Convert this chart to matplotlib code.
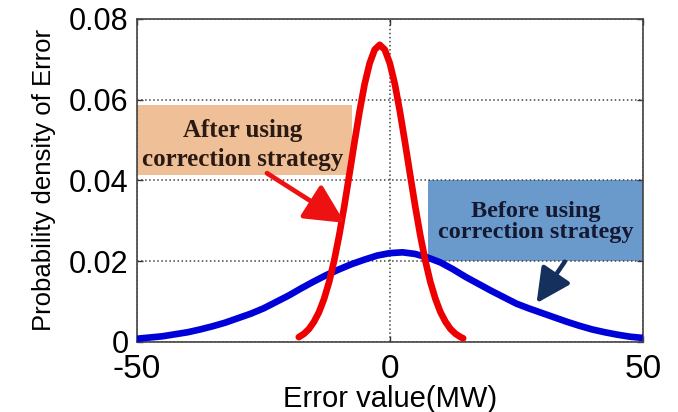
import numpy as np
import matplotlib
matplotlib.use('Agg')
import matplotlib.pyplot as plt

# 误差概率密度
after_x = [-18, -17, -16, -15, -14, -13, -12, -11, -10, -9, -8, -7, -6, -5, -4, -3, -2,
           -1, 0, 1, 2, 3, 4, 5, 6, 7, 8, 9, 10, 11, 12, 13, 14, 14.5]
after_y = [0.0012, 0.0020, 0.0032, 0.0050, 0.0074, 0.0107, 0.0149, 0.0202, 0.0265,
           0.0337, 0.0415, 0.0494, 0.0570, 0.0638, 0.0690, 0.0724, 0.0736,
           0.0724, 0.0690, 0.0638, 0.0570, 0.0494, 0.0415, 0.0337, 0.0265, 0.0202,
           0.0149, 0.0107, 0.0074, 0.0050, 0.0032, 0.0020, 0.0012, 0.0009]

before_x = [-50, -47.5, -45, -42.5, -40, -37.5, -35, -32.5, -30, -27.5, -25, -22.5,
            -20, -17.5, -15, -12.5, -10, -7.5, -5, -2.5, 0, 2.5, 5, 7.5, 10, 12.5,
            15, 17.5, 20, 22.5, 25, 27.5, 30, 32.5, 35, 37.5, 40, 42.5, 45, 47.5, 50]
before_y = [0.0008, 0.0011, 0.0014, 0.0019, 0.0024, 0.0031, 0.0039, 0.0048, 0.0059,
            0.0070, 0.0083, 0.0099, 0.0115, 0.0133, 0.0150, 0.0166, 0.0180, 0.0193,
            0.0204, 0.0214, 0.0220, 0.0222, 0.0218, 0.0209, 0.0197, 0.0180, 0.0161,
            0.0144, 0.0127, 0.0111, 0.0095, 0.0083, 0.0072, 0.0061, 0.0050, 0.0040,
            0.0031, 0.0024, 0.0018, 0.0013, 0.0010]

x_ticks = [-50, 0, 50]
y_ticks = [0, 0.02, 0.04, 0.06, 0.08]
y_tick_labels = ['0', '0.02', '0.04', '0.06', '0.08']

plt.rcParams['font.family'] = ['Liberation Sans', 'DejaVu Sans']
plt.rcParams['axes.unicode_minus'] = False

fig = plt.figure(figsize=(6.78, 4.12), dpi=100)
ax = fig.add_axes([0.202, 0.170, 0.746, 0.784])

# 注释框（底层）
ax.add_patch(plt.Rectangle((-50, 0.0414), 42.5, 0.0173, facecolor='#efbf98',
                           edgecolor='none', zorder=1))
ax.add_patch(plt.Rectangle((7.5, 0.02), 42.5, 0.02, facecolor='#6a9acb',
                           edgecolor='none', zorder=1))

ax.plot(before_x, before_y, color='#0000d8', linewidth=4.8, zorder=3,
        solid_capstyle='butt')
ax.plot(after_x, after_y, color='#ee0000', linewidth=4.8, zorder=4,
        solid_capstyle='round')

ax.text(-29.2, 0.0488, 'After using\ncorrection strategy', family='Liberation Serif',
        fontweight='bold', fontsize=18, color='#2a1a12', ha='center', va='center',
        linespacing=1.3, zorder=5)
ax.text(28.9, 0.0297, 'Before using\ncorrection strategy', family='Liberation Serif',
        fontweight='bold', fontsize=17.5, color='#141830', ha='center', va='center',
        linespacing=0.95, zorder=5)

ax.annotate('', xy=(-8.9, 0.0295), xytext=(-24.3, 0.0418),
            arrowprops=dict(arrowstyle='-|>,head_length=1.1,head_width=0.55',
                            color='#ee1111', lw=3.4, mutation_scale=22,
                            shrinkA=0, shrinkB=0), zorder=6)
ax.annotate('', xy=(29.0, 0.0096), xytext=(34.6, 0.0199),
            arrowprops=dict(arrowstyle='-|>,head_length=1.1,head_width=0.55',
                            color='#15305c', lw=3.2, mutation_scale=19,
                            shrinkA=0, shrinkB=0), zorder=6)

ax.set_xlim(-50, 50)
ax.set_ylim(0, 0.08)
ax.set_xticks(x_ticks)
ax.set_yticks(y_ticks)
ax.set_yticklabels(y_tick_labels)
ax.tick_params(direction='in', top=True, right=True, length=4, width=1,
               colors='#333333', labelcolor='black')
ax.tick_params(axis='x', labelsize=24, pad=9)
ax.tick_params(axis='y', labelsize=22, pad=6)
ax.grid(True, linestyle=':', color='#444444', linewidth=1.1)
for s in ax.spines.values():
    s.set_color('#444444')
    s.set_linewidth(1.2)

ax.set_xlabel('Error value(MW)', fontsize=21, labelpad=0)
ax.set_ylabel('Probability density of Error', fontsize=18.5, labelpad=9)

fig.savefig('out.png', dpi=100)
